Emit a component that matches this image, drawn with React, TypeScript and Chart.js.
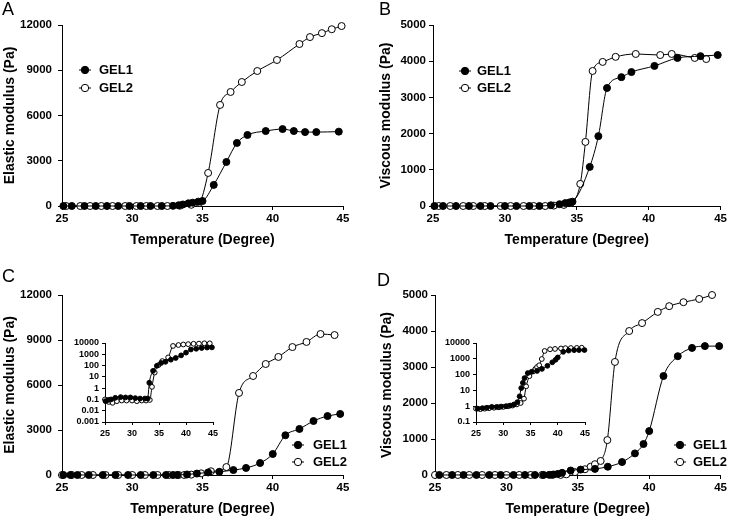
import React, { useEffect, useRef } from "react";
import { Chart, registerables } from "chart.js";
Chart.register(...registerables);

const FONT = '"Liberation Sans", Arial, Helvetica, sans-serif';

// ---------- Data ----------
const legendLabels = ["GEL1", "GEL2"];
const tempTicks = [25, 30, 35, 40, 45];
const logTicksC = [0.001, 0.01, 0.1, 1, 10, 100, 1000, 10000];
const logTicksD = [0.1, 1, 10, 100, 1000, 10000];

// Panel A – elastic modulus (Pa)
const tempA1 = [25.1, 25.7, 26.6, 27.4, 28.2, 29.0, 29.8, 30.6, 31.3, 32.1, 32.9, 33.3, 33.6, 34.0, 34.3, 34.7, 35.0, 35.8, 36.7, 37.45, 38.2, 39.5, 40.7, 41.5, 42.3, 43.1, 44.7];
const elasticA1 = [0, 0, 0, 0, 0, 0, 0, 0, 0, 0, 10, 50, 100, 180, 220, 290, 330, 1400, 2920, 4180, 4710, 4970, 5100, 4970, 4900, 4900, 4930];
const tempA2 = [25.3, 26.3, 27.0, 27.8, 28.6, 29.5, 30.3, 31.0, 31.8, 32.5, 33.4, 34.2, 34.75, 35.4, 36.25, 37.0, 37.8, 38.9, 40.3, 41.9, 42.65, 43.5, 44.2, 44.9];
const elasticA2 = [0, 0, 0, 0, 0, 0, 0, 0, 0, 0, 20, 80, 200, 2190, 6700, 7560, 8220, 8950, 9680, 10740, 11200, 11460, 11720, 11930];

// Panel B – viscous modulus (Pa)
const tempB1 = [25.1, 25.7, 26.6, 27.5, 28.3, 29.0, 30.0, 30.8, 31.7, 32.4, 33.2, 33.8, 34.2, 34.5, 34.7, 35.9, 36.5, 37.1, 38.1, 38.8, 40.4, 42.0, 43.6, 44.8];
const viscousB1 = [0, 0, 0, 0, 0, 0, 0, 0, 0, 0, 20, 50, 80, 100, 120, 1080, 1930, 3260, 3560, 3700, 3870, 4090, 4140, 4170];
const tempB2 = [25.4, 26.2, 27.1, 27.8, 28.6, 29.7, 30.4, 31.3, 32.0, 32.8, 33.4, 34.1, 34.6, 35.24, 35.6, 36.1, 36.8, 37.7, 39.1, 40.8, 41.6, 43.2, 44.0];
const viscousB2 = [0, 0, 0, 0, 0, 0, 0, 0, 0, 0, 10, 30, 90, 610, 1770, 3730, 3980, 4120, 4200, 4170, 4200, 4090, 4060];

// Panel C – elastic modulus (Pa), main + log inset
const tempC1 = [25.1, 25.6, 26.1, 26.9, 27.9, 28.8, 29.7, 30.6, 31.5, 32.4, 32.9, 33.2, 33.9, 34.6, 35.4, 36.2, 37.2, 38.1, 39.1, 40.0, 40.9, 41.9, 42.9, 43.9, 44.8];
const elasticC1 = [0.07, 0.09, 0.1, 0.14, 0.16, 0.15, 0.15, 0.13, 0.12, 0.12, 0.12, 3, 34, 95, 170, 215, 330, 470, 800, 1400, 2650, 3070, 3600, 3930, 4070];
const tempC2 = [25.0, 25.7, 26.4, 27.2, 28.1, 29.0, 30.0, 30.9, 31.8, 32.6, 33.3, 33.7, 34.2, 34.9, 35.6, 36.7, 37.6, 38.6, 39.5, 40.4, 41.4, 42.4, 43.4, 44.4];
const elasticC2 = [0.1, 0.06, 0.05, 0.07, 0.08, 0.08, 0.08, 0.07, 0.08, 0.08, 0.09, 1.3, 24, 110, 250, 530, 5470, 6600, 7400, 7870, 8530, 8870, 9400, 9330];

// Panel D – viscous modulus (Pa), main + log inset
const tempD1 = [25.3, 26.2, 27.0, 27.9, 28.8, 29.6, 30.5, 31.3, 32.0, 32.6, 33.0, 33.3, 33.6, 33.9, 34.5, 35.2, 36.2, 37.1, 38.1, 39.0, 39.6, 40.0, 41.0, 42.0, 43.0, 43.9, 44.9];
const viscousD1 = [0.7, 0.75, 0.8, 0.9, 0.9, 0.95, 1.0, 1.1, 1.3, 1.8, 4.2, 14, 30, 60, 125, 150, 170, 230, 360, 600, 860, 1220, 2750, 3300, 3530, 3580, 3580];
const tempD2 = [25.0, 25.8, 26.6, 27.4, 28.3, 29.2, 30.0, 30.9, 31.7, 32.5, 33.2, 33.8, 34.2, 34.8, 35.5, 35.9, 36.2, 36.6, 37.07, 37.6, 38.6, 39.5, 40.6, 41.4, 42.4, 43.5, 44.4];
const viscousD2 = [0.7, 0.65, 0.7, 0.75, 0.8, 0.85, 0.9, 1.0, 1.1, 1.3, 1.6, 3, 18, 80, 160, 230, 300, 390, 970, 3140, 4000, 4220, 4530, 4690, 4800, 4890, 5000];

// ---------- Component ----------
type Rect = { x: number; y: number; w: number; h: number };
type Plot = { l: number; t: number; r: number; b: number };
type PanelProps = {
  canvas: Rect;
  plot: Plot;
  t1: number[]; v1: number[]; t2: number[]; v2: number[];
  yMin: number; yMax: number; yStep?: number; logTicks?: number[];
  yTitle?: string; xTitle?: string; yTitleX?: number;
  tickSize: number; tickLen: number; yPad: number; xPad: number; xh: number;
  radius: number;
  legend?: { mx: number; tx: number; y1: number; y2: number };
};

function Panel(p: PanelProps) {
  const ref = useRef<HTMLCanvasElement>(null);
  useEffect(() => {
    const c = ref.current!;
    const yW = p.plot.l - p.canvas.x;
    const padRight = p.canvas.x + p.canvas.w - p.plot.r;
    const padTop = p.plot.t - p.canvas.y;
    const padBottom = p.canvas.y + p.canvas.h - p.plot.b - p.xh;
    const mk = (xs: number[], ys: number[]) => xs.map((x, i) => ({ x, y: ys[i] }));
    const ds = (label: string, data: any[], fill: string) => ({
      label,
      data,
      borderColor: "#000",
      borderWidth: 1,
      backgroundColor: fill,
      pointBackgroundColor: fill,
      pointBorderColor: "#000",
      pointBorderWidth: 1,
      pointRadius: p.radius,
      cubicInterpolationMode: "monotone",
      fill: false,
      clip: false,
    });
    const titleLH = 14 * 1.2;
    const legendPlugin = {
      id: "gelLegend",
      afterDatasetsDraw(chart: any) {
        if (!p.legend) return;
        const ctx = chart.ctx;
        const L = p.legend;
        const items = [
          { y: L.y1, fill: "#000", label: legendLabels[0] },
          { y: L.y2, fill: "#fff", label: legendLabels[1] },
        ];
        ctx.save();
        items.forEach((it) => {
          const y = it.y - p.canvas.y;
          const mx = L.mx - p.canvas.x;
          ctx.strokeStyle = "#000";
          ctx.lineWidth = 1;
          ctx.beginPath();
          ctx.moveTo(mx - 6, y);
          ctx.lineTo(mx + 6, y);
          ctx.stroke();
          ctx.beginPath();
          ctx.arc(mx, y, 3.7, 0, Math.PI * 2);
          ctx.fillStyle = it.fill;
          ctx.fill();
          ctx.stroke();
          ctx.fillStyle = "#000";
          ctx.font = `bold 13px ${FONT}`;
          ctx.textBaseline = "middle";
          ctx.textAlign = "left";
          ctx.fillText(it.label, L.tx - p.canvas.x, y + 0.5);
        });
        ctx.restore();
      },
    };
    const tickFont = { family: FONT, size: p.tickSize, weight: "bold" as const };
    const titleFont = { family: FONT, size: 14, weight: "bold" as const };
    const chart = new Chart(c, {
      type: "line",
      data: {
        datasets: [ds(legendLabels[0], mk(p.t1, p.v1), "#000"), ds(legendLabels[1], mk(p.t2, p.v2), "#fff")] as any,
      },
      options: {
        animation: false,
        responsive: false,
        maintainAspectRatio: false,
        layout: { padding: { left: 0, right: padRight, top: padTop, bottom: padBottom } },
        plugins: { legend: { display: false }, tooltip: { enabled: false } },
        scales: {
          x: {
            type: "linear",
            min: 25,
            max: 45,
            afterBuildTicks: (s: any) => {
              s.ticks = tempTicks.map((v) => ({ value: v }));
            },
            afterFit: (s: any) => {
              s.height = p.xh;
            },
            grid: { display: true, drawOnChartArea: false, drawTicks: true, tickLength: p.tickLen, color: "#000", lineWidth: 1 },
            border: { display: true, color: "#000", width: 1 },
            ticks: { color: "#000", font: tickFont, padding: p.xPad, maxRotation: 0, autoSkip: false },
            title: {
              display: !!p.xTitle,
              text: p.xTitle || "",
              color: "#000",
              font: titleFont,
              padding: { top: 0, bottom: 0 },
            },
          },
          y: {
            type: p.logTicks ? "logarithmic" : "linear",
            min: p.yMin,
            max: p.yMax,
            afterBuildTicks: (s: any) => {
              if (p.logTicks) s.ticks = p.logTicks.map((v) => ({ value: v }));
            },
            afterFit: (s: any) => {
              s.width = yW;
            },
            grid: { display: true, drawOnChartArea: false, drawTicks: true, tickLength: p.tickLen, color: "#000", lineWidth: 1 },
            border: { display: true, color: "#000", width: 1 },
            ticks: {
              color: "#000",
              font: tickFont,
              padding: p.yPad,
              stepSize: p.yStep,
              autoSkip: false,
              callback: (v: any) => String(v),
            },
            title: {
              display: !!p.yTitle,
              text: p.yTitle || "",
              color: "#000",
              font: titleFont,
              padding: { top: (p.yTitleX || 0) - p.canvas.x - titleLH / 2, bottom: 0 },
            },
          } as any,
        },
      },
      plugins: [legendPlugin as any],
    });
    return () => chart.destroy();
  }, []);
  return (
    <canvas
      ref={ref}
      width={p.canvas.w}
      height={p.canvas.h}
      style={{ position: "absolute", left: p.canvas.x, top: p.canvas.y, width: p.canvas.w, height: p.canvas.h }}
    />
  );
}

const letterStyle = (x: number, y: number): React.CSSProperties => ({
  position: "absolute",
  left: x,
  top: y,
  fontFamily: FONT,
  fontSize: 18,
  lineHeight: "18px",
  color: "#000",
});

export default function App() {
  const mainCommon = { tickSize: 11.5, tickLen: 4, xPad: 2, xh: 43, radius: 3.5, xTitle: "Temperature (Degree)" };
  const insetCommon = { tickSize: 9, tickLen: 3, xPad: 3, yPad: 3, xh: 16, radius: 2.4 };
  return (
    <div style={{ position: "fixed", left: 0, top: 0, width: 729, height: 518, overflow: "hidden", background: "#fff" }}>
      <Panel
        {...mainCommon}
        canvas={{ x: 0, y: 0, w: 364, h: 258 }}
        plot={{ l: 62, t: 25, r: 343, b: 206 }}
        t1={tempA1} v1={elasticA1} t2={tempA2} v2={elasticA2}
        yMin={0} yMax={12000} yStep={3000}
        yTitle="Elastic modulus (Pa)" yTitleX={10} yPad={6}
        legend={{ mx: 85, tx: 99, y1: 70, y2: 88 }}
      />
      <Panel
        {...mainCommon}
        canvas={{ x: 365, y: 0, w: 364, h: 258 }}
        plot={{ l: 433, t: 25, r: 722, b: 206 }}
        t1={tempB1} v1={viscousB1} t2={tempB2} v2={viscousB2}
        yMin={0} yMax={5000} yStep={1000}
        yTitle="Viscous modulus (Pa)" yTitleX={386} yPad={3}
        legend={{ mx: 465, tx: 477, y1: 71, y2: 88 }}
      />
      <Panel
        {...mainCommon}
        canvas={{ x: 0, y: 258, w: 364, h: 260 }}
        plot={{ l: 62, t: 295, r: 343, b: 475 }}
        t1={tempC1} v1={elasticC1} t2={tempC2} v2={elasticC2}
        yMin={0} yMax={12000} yStep={3000}
        yTitle="Elastic modulus (Pa)" yTitleX={10} yPad={6}
        legend={{ mx: 298, tx: 313, y1: 445, y2: 462 }}
      />
      <Panel
        {...mainCommon}
        canvas={{ x: 365, y: 258, w: 364, h: 260 }}
        plot={{ l: 435, t: 295, r: 721, b: 475 }}
        t1={tempD1} v1={viscousD1} t2={tempD2} v2={viscousD2}
        yMin={0} yMax={5000} yStep={1000}
        yTitle="Viscous modulus (Pa)" yTitleX={387} yPad={3}
        legend={{ mx: 680, tx: 693, y1: 445, y2: 462 }}
      />
      <Panel
        {...insetCommon}
        canvas={{ x: 58, y: 330, w: 167, h: 115 }}
        plot={{ l: 105, t: 343, r: 213, b: 422 }}
        t1={tempC1} v1={elasticC1} t2={tempC2} v2={elasticC2}
        yMin={0.001} yMax={10000} logTicks={logTicksC}
      />
      <Panel
        {...insetCommon}
        canvas={{ x: 433, y: 330, w: 167, h: 115 }}
        plot={{ l: 476, t: 343, r: 585, b: 422 }}
        t1={tempD1} v1={viscousD1} t2={tempD2} v2={viscousD2}
        yMin={0.1} yMax={10000} logTicks={logTicksD}
      />
      <div style={letterStyle(2, 0)}>A</div>
      <div style={letterStyle(379, 0)}>B</div>
      <div style={letterStyle(2, 267)}>C</div>
      <div style={letterStyle(377, 271)}>D</div>
    </div>
  );
}
